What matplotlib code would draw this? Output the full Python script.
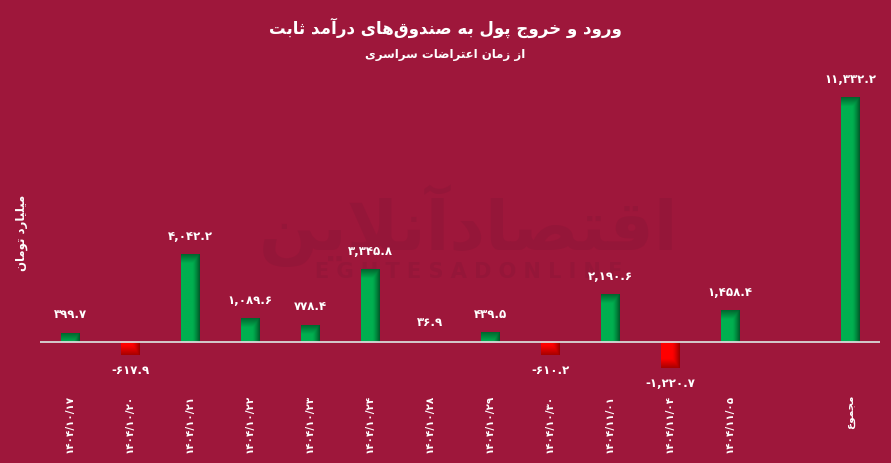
"""Fixed-income fund inflows/outflows since the nationwide protests"""

import numpy as np
import matplotlib
matplotlib.use('Agg')
import matplotlib.pyplot as plt

# ---- data (billion toman) ----
dates = ['1404/10/17', '1404/10/20', '1404/10/21', '1404/10/22', '1404/10/23',
         '1404/10/24', '1404/10/28', '1404/10/29', '1404/10/30', '1404/11/01',
         '1404/11/04', '1404/11/05']
flows = [399.7, -617.9, 4042.2, 1089.6, 778.4, 3345.8, 36.9, 439.5, -610.2,
         2190.6, -1220.7, 1458.4]
total_label = 'مجموع'
total_value = 11332.2

title = 'ورود و خروج پول به صندوق‌های درآمد ثابت'
subtitle = 'از زمان اعتراضات سراسری'
ylabel = 'میلیارد تومان'

BG = '#9E173B'
WM = '#951639'
GREEN, GREEN_DARK = np.array([0, 176, 80]) / 255, np.array([0, 88, 40]) / 255
RED, RED_DARK = np.array([255, 0, 0]) / 255, np.array([150, 0, 0]) / 255

# ---- minimal arabic/persian shaping (matplotlib has no bidi support) ----
DUAL = {'ب': 0xFE8F, 'ت': 0xFE95, 'ث': 0xFE99, 'ج': 0xFE9D, 'ح': 0xFEA1,
        'خ': 0xFEA5, 'س': 0xFEB1, 'ش': 0xFEB5, 'ص': 0xFEB9, 'ض': 0xFEBD,
        'ط': 0xFEC1, 'ظ': 0xFEC5, 'ع': 0xFEC9, 'غ': 0xFECD, 'ف': 0xFED1,
        'ق': 0xFED5, 'ل': 0xFEDD, 'م': 0xFEE1, 'ن': 0xFEE5, 'ه': 0xFEE9,
        'پ': 0xFB56, 'چ': 0xFB7A, 'ک': 0xFB8E, 'گ': 0xFB92, 'ی': 0xFBFC}
RIGHT = {'ا': 0xFE8D, 'آ': 0xFE81, 'د': 0xFEA9, 'ذ': 0xFEAB, 'ر': 0xFEAD,
         'ز': 0xFEAF, 'ژ': 0xFB8A, 'و': 0xFEED}
LAMALEF = {'ا': 0xFEFB, 'آ': 0xFEF5}
FA_DIGITS = str.maketrans('0123456789', '۰۱۲۳۴۵۶۷۸۹')


def shape(text):
    out = []
    i = 0
    while i < len(text):
        c = text[i]
        prev = text[i - 1] if i > 0 else ''
        nxt = text[i + 1] if i + 1 < len(text) else ''
        jp = prev in DUAL
        if c == 'ل' and nxt in LAMALEF:
            out.append(chr(LAMALEF[nxt] + (1 if jp else 0)))
            i += 2
            continue
        if c in DUAL:
            jn = nxt in DUAL or nxt in RIGHT
            off = {(False, False): 0, (True, False): 1,
                   (False, True): 2, (True, True): 3}[(jp, jn)]
            out.append(chr(DUAL[c] + off))
        elif c in RIGHT:
            out.append(chr(RIGHT[c] + (1 if jp else 0)))
        elif c != '\u200c':
            out.append(c)
        i += 1
    return ''.join(reversed(out))


def fa_num(v):
    return format(v, ',.1f').translate(FA_DIGITS)


plt.rcParams['font.family'] = ['DejaVu Sans']

fig = plt.figure(figsize=(8.91, 4.63), dpi=100, facecolor=BG)
ax = fig.add_axes([0.0449, 0.2009, 0.9428, 0.648], facecolor=BG)

labels = [d.translate(FA_DIGITS) for d in dates] + ['', shape(total_label)]
values = flows + [np.nan, total_value]
x = np.arange(len(labels))

ymin, ymax = -1300, 12630
ax.set_xlim(-0.5, len(labels) - 0.5)
ax.set_ylim(ymin, ymax)

# watermark (faint logo behind the bars)
ax.text(0.51, 0.48, shape('اقتصادآنلاین'), transform=ax.transAxes,
        fontsize=50, fontweight='bold', color=WM, ha='center', va='center',
        zorder=0.5)
ax.text(0.51, 0.325, 'E G H T E S A D O N L I N E', transform=ax.transAxes,
        fontsize=15, fontweight='bold', color=WM, ha='center', va='center',
        zorder=0.5)

# gradient bars
fig.canvas.draw()
ax_h_px = ax.get_window_extent().height
units_per_px = (ymax - ymin) / ax_h_px
width = 0.31
band_px = 9
for xi, v in zip(x, values):
    if np.isnan(v):
        continue
    base, dark = (GREEN, GREEN_DARK) if v >= 0 else (RED, RED_DARK)
    nx, ny = 40, 300
    t = np.linspace(0, 1, nx)
    horiz = np.clip((t - 0.6) / 0.4, 0, 1) ** 1.3
    lo, hi = min(0, v), max(0, v)
    yy = np.linspace(lo, hi, ny)
    d_px = np.abs(v - yy) / units_per_px
    vert = np.clip(1 - d_px / band_px, 0, 1) * 0.85
    f = np.maximum(horiz[None, :], vert[:, None])
    img = base[None, None, :] * (1 - f[..., None]) + dark[None, None, :] * f[..., None]
    ax.imshow(img, extent=(xi - width / 2, xi + width / 2, lo, hi),
              origin='lower', aspect='auto', zorder=2, interpolation='bilinear')
    if v >= 0:
        ax.text(xi, v + 12 * units_per_px, fa_num(v), ha='center', va='bottom',
                color='white', fontsize=8.5, fontweight='bold', zorder=4)
    else:
        ax.text(xi, v - 9 * units_per_px, fa_num(v), ha='center', va='top',
                color='white', fontsize=8.5, fontweight='bold', zorder=4,
                clip_on=False)

ax.set_xlim(-0.5, len(labels) - 0.5)
ax.set_ylim(ymin, ymax)
ax.axhline(0, color='#D9D9D9', lw=1.3, zorder=3)

for s in ax.spines.values():
    s.set_visible(False)
ax.set_yticks([])
ax.set_xticks(x)
ax.set_xticklabels(labels, rotation=90, color='white', fontsize=7.5,
                   fontweight='bold')
ax.tick_params(axis='x', length=0, pad=18)

fig.text(0.5, 0.94, shape(title), ha='center', va='center', color='white',
         fontsize=12, fontweight='bold')
fig.text(0.5, 0.882, shape(subtitle), ha='center', va='center', color='white',
         fontsize=8.5, fontweight='bold')
fig.text(0.024, 0.497, shape(ylabel), ha='center', va='center', color='white',
         fontsize=8.5, fontweight='bold', rotation=90)

fig.savefig('out.png', dpi=100, facecolor=BG)
